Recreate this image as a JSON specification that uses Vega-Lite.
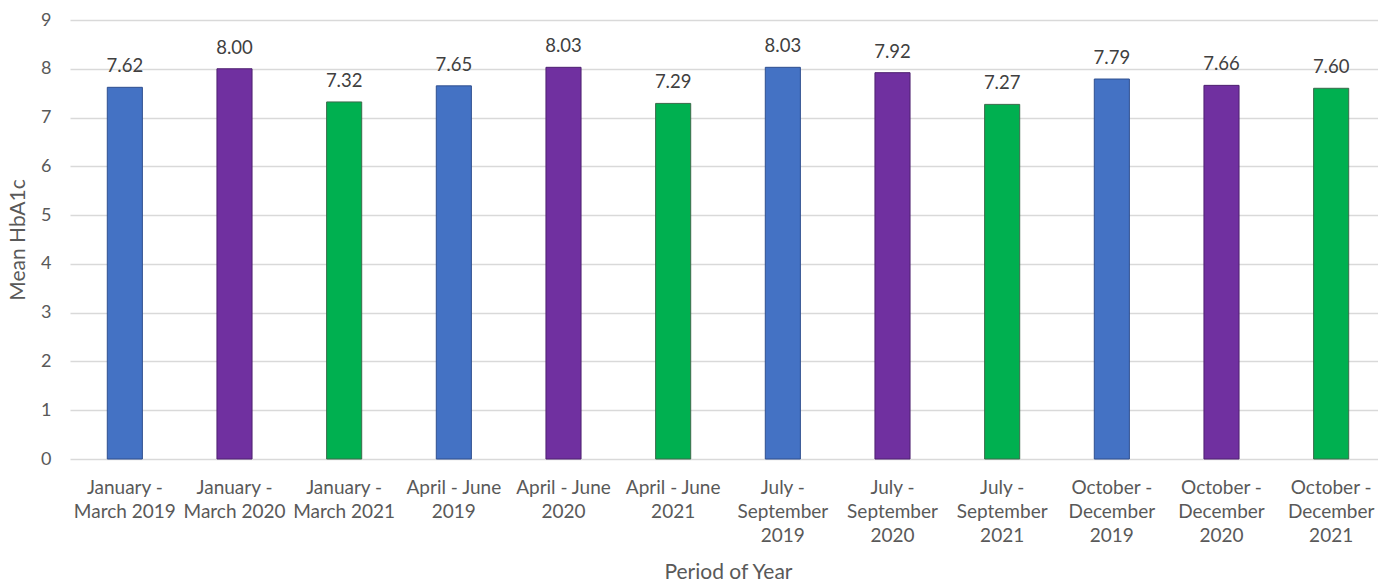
{
  "$schema": "https://vega.github.io/schema/vega-lite/v6.json",
  "autosize": {"type": "none"},
  "width": 1316,
  "height": 439,
  "padding": {"left": 70, "top": 20, "right": 0, "bottom": 124},
  "background": "white",
  "config": {
    "font": "Lato",
    "view": {"stroke": null}
  },
  "data": {
    "values": [
      {"period": "January - March 2019", "year": "2019", "hba1c": 7.62},
      {"period": "January - March 2020", "year": "2020", "hba1c": 8.00},
      {"period": "January - March 2021", "year": "2021", "hba1c": 7.32},
      {"period": "April - June 2019", "year": "2019", "hba1c": 7.65},
      {"period": "April - June 2020", "year": "2020", "hba1c": 8.03},
      {"period": "April - June 2021", "year": "2021", "hba1c": 7.29},
      {"period": "July - September 2019", "year": "2019", "hba1c": 8.03},
      {"period": "July - September 2020", "year": "2020", "hba1c": 7.92},
      {"period": "July - September 2021", "year": "2021", "hba1c": 7.27},
      {"period": "October - December 2019", "year": "2019", "hba1c": 7.79},
      {"period": "October - December 2020", "year": "2020", "hba1c": 7.66},
      {"period": "October - December 2021", "year": "2021", "hba1c": 7.60}
    ]
  },
  "encoding": {
    "x": {
      "field": "period",
      "type": "nominal",
      "sort": null,
      "scale": {"paddingInner": 0.68, "paddingOuter": 0.34},
      "axis": {
        "title": "Period of Year",
        "titleFont": "Lato",
        "titleFontSize": 21,
        "titleFontWeight": "normal",
        "titleColor": "#595959",
        "titlePadding": 16,
        "labelAngle": 0,
        "labelFont": "Lato",
        "labelFontSize": 19,
        "labelColor": "#595959",
        "labelLineHeight": 24,
        "labelPadding": 19,
        "labelOverlap": false,
        "labelBaseline": "top",
        "labelExpr": "split(replace(replace(replace(replace(replace(replace(datum.label, 'January - ', 'January -|'), 'April - June ', 'April - June|'), 'July - ', 'July -|'), 'October - ', 'October -|'), 'September ', 'September|'), 'December ', 'December|'), '|')",
        "domain": false,
        "ticks": false
      }
    },
    "y": {
      "field": "hba1c",
      "type": "quantitative",
      "scale": {"domain": [0, 9], "nice": false},
      "axis": {
        "title": "Mean HbA1c",
        "titleFont": "Lato",
        "titleFontSize": 21,
        "titleFontWeight": "normal",
        "titleColor": "#595959",
        "titlePadding": 12,
        "values": [0, 1, 2, 3, 4, 5, 6, 7, 8, 9],
        "labelFont": "Lato",
        "labelFontSize": 18,
        "labelColor": "#595959",
        "labelPadding": 19,
        "labelOverlap": false,
        "domain": false,
        "ticks": false,
        "grid": true,
        "gridColor": "#d9d9d9",
        "gridWidth": 1.5
      }
    }
  },
  "layer": [
    {
      "mark": {"type": "bar", "strokeWidth": 1},
      "encoding": {
        "color": {
          "field": "year",
          "type": "nominal",
          "scale": {"domain": ["2019", "2020", "2021"], "range": ["#4472C4", "#7030A0", "#00B050"]},
          "legend": null
        },
        "stroke": {
          "field": "year",
          "type": "nominal",
          "scale": {"domain": ["2019", "2020", "2021"], "range": ["#2F4F8F", "#4E2070", "#3a6a4a"]},
          "legend": null
        }
      }
    },
    {
      "mark": {"type": "text", "baseline": "bottom", "dy": -11, "font": "Lato", "fontSize": 18.5, "color": "#404040"},
      "encoding": {
        "text": {"field": "hba1c", "type": "quantitative", "format": ".2f"}
      }
    }
  ]
}
